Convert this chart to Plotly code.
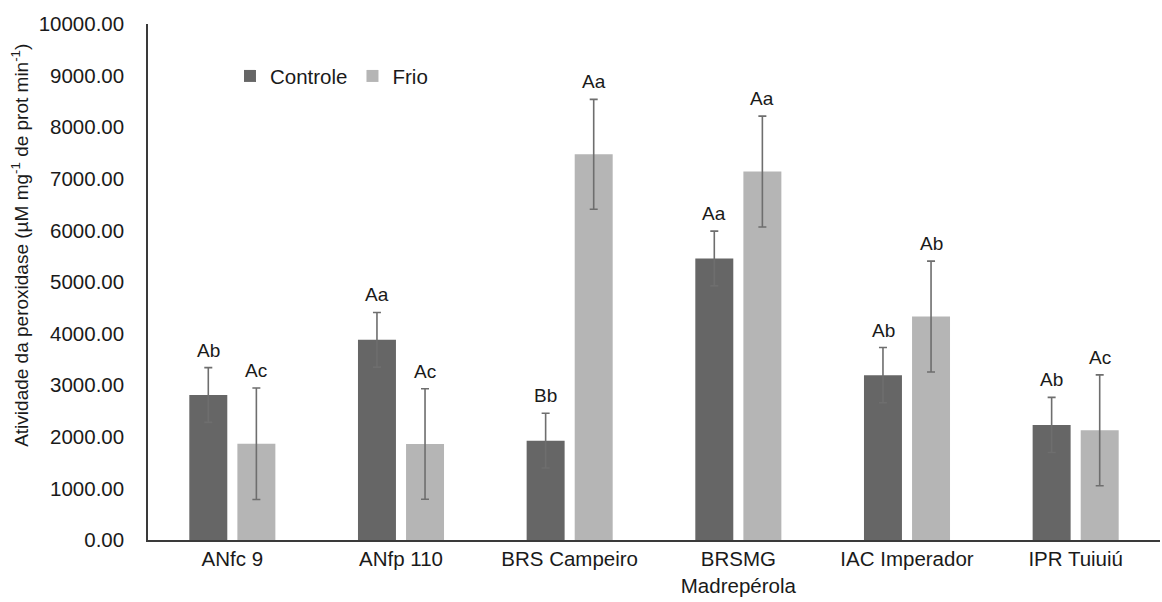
import plotly.graph_objects as go

# Peroxidase activity per cultivar, control vs. cold treatment
cultivares = ["ANfc 9", "ANfp 110", "BRS Campeiro", "BRSMG<br>Madrepérola",
              "IAC Imperador", "IPR Tuiuiú"]
controle = [2810, 3880, 1925, 5455, 3195, 2230]
controle_dp = [530, 530, 530, 530, 535, 535]
frio = [1865, 1860, 7475, 7140, 4330, 2125]
frio_dp = [1080, 1070, 1065, 1075, 1075, 1075]
letras_controle = ["Ab", "Aa", "Bb", "Aa", "Ab", "Ab"]
letras_frio = ["Ac", "Ac", "Aa", "Aa", "Ab", "Ac"]

font_family = "Liberation Sans, Arial, sans-serif"
cor_controle = "#666666"
cor_frio = "#b5b5b5"
cor_erro = "#6e6e6e"
cor_texto = "#1a1a1a"

fig = go.Figure()
fig.add_trace(go.Bar(
    name="Controle", x=cultivares, y=controle, marker_color=cor_controle,
    marker_line_width=0,
    error_y=dict(type="data", array=controle_dp, color=cor_erro,
                 thickness=1.6, width=4),
))
fig.add_trace(go.Bar(
    name="Frio", x=cultivares, y=frio, marker_color=cor_frio,
    marker_line_width=0,
    error_y=dict(type="data", array=frio_dp, color=cor_erro,
                 thickness=1.6, width=4),
))

# Significance letters above each error bar
for i, cat in enumerate(cultivares):
    for val, dp, letra, shift in ((controle[i], controle_dp[i], letras_controle[i], -24),
                                  (frio[i], frio_dp[i], letras_frio[i], 24)):
        fig.add_annotation(
            x=cat, y=val + dp, text=letra, showarrow=False,
            xshift=shift, yshift=5, yanchor="bottom",
            font=dict(family=font_family, size=19, color=cor_texto),
        )

# Y-axis title, placed a little above the axis midpoint
fig.add_annotation(
    xref="paper", yref="paper", x=-0.1265, y=0.572,
    xanchor="center", yanchor="middle", textangle=-90, showarrow=False,
    text="Atividade da peroxidase (µM mg<sup>-1</sup> de prot min<sup>-1</sup>)",
    font=dict(family=font_family, size=19, color=cor_texto),
)

fig.update_layout(
    width=1162, height=602,
    margin=dict(l=148, r=2, t=24, b=62),
    paper_bgcolor="white", plot_bgcolor="white",
    barmode="group", bargap=0.43, bargroupgap=0.21,
    font=dict(family=font_family, size=20, color=cor_texto),
    legend=dict(
        orientation="h", x=0.081, y=0.899, xanchor="left", yanchor="middle",
        font=dict(family=font_family, size=20.5, color=cor_texto),
        itemwidth=30, bgcolor="rgba(0,0,0,0)",
    ),
    xaxis=dict(
        showline=True, linecolor="#3a3a3a", linewidth=1.5,
        ticks="", tickfont=dict(size=20.5, color=cor_texto),
        showgrid=False,
    ),
    yaxis=dict(
        range=[0, 10000], dtick=1000, tickformat=".2f",
        showline=True, linecolor="#3a3a3a", linewidth=1.5,
        ticks="", showgrid=False, zeroline=False,
        tickfont=dict(size=20.5, color=cor_texto), ticklabelstandoff=18,
    ),
)

fig.write_html("out.html")
